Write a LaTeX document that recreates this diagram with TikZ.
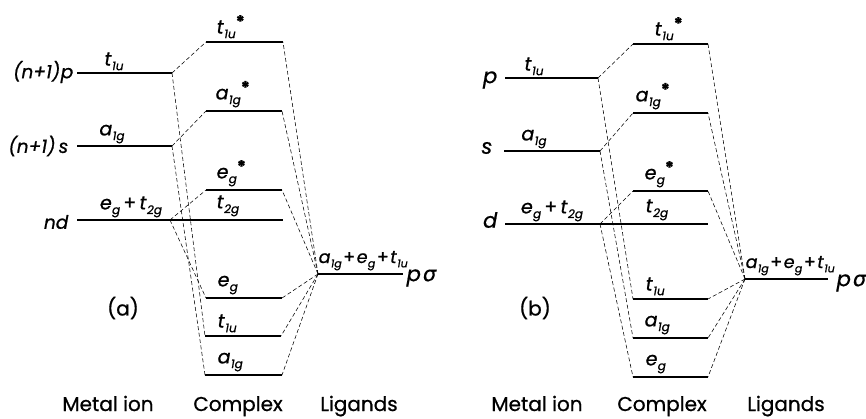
\documentclass[tikz,border=0pt]{standalone}
\usepackage{fontspec}
\setmainfont{Poppins}[FakeBold=0.8]
\newfontfamily\grk{DejaVu Sans}[FakeBold=0.5]
\newcommand{\sy}[2]{\textit{#1}\kern0.3pt\raisebox{-0.45ex}{\fontsize{12}{12}\selectfont\itshape #2}}
\newcommand{\syl}[2]{\textit{#1}\kern0.3pt\raisebox{-0.45ex}{\fontsize{11}{11}\selectfont\itshape #2}}
\newcommand{\st}{\raisebox{0.55ex}{\fontsize{17}{17}\selectfont\bfseries *}}
\begin{document}
\begin{tikzpicture}[x=1pt,y=-1pt,
  level/.style={line width=1.2pt},
  conn/.style={line width=0.55pt, dash pattern=on 4pt off 2.5pt},
  lab/.style={font=\fontsize{19}{19}\selectfont, inner sep=0.5pt},
  ligl/.style={font=\fontsize{17.5}{17.5}\selectfont, inner sep=0.5pt},
  big/.style={font=\fontsize{18.5}{18.5}\selectfont\itshape, inner sep=0.5pt},
  bigr/.style={font=\fontsize{21}{21}\selectfont\itshape, inner sep=0.5pt},
  captxt/.style={font=\fontsize{20}{20}\selectfont, inner sep=0.5pt}]
\useasboundingbox (0,0) rectangle (866,419);

% ---------------- (a) ----------------
\coordinate (ApL) at (77,73);  \coordinate (ApR) at (172,73);
\coordinate (AsL) at (77,146); \coordinate (AsR) at (172,146);
\coordinate (AdL) at (77,220); \coordinate (AdR) at (170,220);
\coordinate (AtsL) at (206,42);  \coordinate (AtsR) at (283,42);
\coordinate (AasL) at (206,111); \coordinate (AasR) at (282,111);
\coordinate (AesL) at (206,190); \coordinate (AesR) at (282,190);
\coordinate (AttL) at (206,220); \coordinate (AttR) at (283,220);
\coordinate (AeL) at (206,298);  \coordinate (AeR) at (282,298);
\coordinate (AtL) at (205,336);  \coordinate (AtR) at (281,336);
\coordinate (AaL) at (205,375);  \coordinate (AaR) at (282,375);
\coordinate (AlL) at (318,274);  \coordinate (AlR) at (403,274);

\foreach \a/\b in {ApL/ApR,AsL/AsR,AdL/AdR,AtsL/AtsR,AasL/AasR,AesL/AesR,AttL/AttR,AeL/AeR,AtL/AtR,AaL/AaR,AlL/AlR}
  \draw[level] (\a) -- (\b);
\draw[level] (AdR) -- (AttL);
\foreach \a/\b in {ApR/AtsL,ApR/AtL,AsR/AasL,AsR/AaL,AdR/AesL,AdR/AeL,
                   AlL/AtsR,AlL/AasR,AlL/AesR,AlL/AeR,AlL/AtR,AlL/AaR}
  \draw[conn] (\a) -- (\b);

\node[big,anchor=east] (Anp) at (74,72) {(\textit{n}+1)\kern0.5pt\textit{p}};
\node[big,anchor=east] (Ans) at (69,146) {(\textit{n}+1)\,\textit{s}};
\node[big,anchor=east] (And) at (69,222) {\textit{nd}};
\node[lab,anchor=south] (Am1) at (114,71) {\sy{t}{1u}};
\node[lab,anchor=south] (Am2) at (112,144) {\sy{a}{1g}};
\node[lab,anchor=south] (Am3) at (131,218) {\sy{e}{g}\,+\,\sy{t}{2g}};
\node[lab,anchor=south west] (Ac1) at (216,39) {\sy{t}{1u}\st};
\node[lab,anchor=south west] (Ac2) at (215,108) {\sy{a}{1g}\st};
\node[lab,anchor=south west] (Ac3) at (216,187) {\sy{e}{g}\st};
\node[lab,anchor=south west] (Ac4) at (216,217) {\sy{t}{2g}};
\node[lab,anchor=south west] (Ac5) at (217,295) {\sy{e}{g}};
\node[lab,anchor=south west] (Ac6) at (217,333) {\sy{t}{1u}};
\node[lab,anchor=south west] (Ac7) at (217,372) {\sy{a}{1g}};
\node[ligl,anchor=south west] (Al1) at (318,271) {\syl{a}{1g}\kern1.5pt+\kern1.5pt\syl{e}{g}\kern1.5pt+\kern1.5pt\syl{t}{1u}};
\node[bigr,anchor=west] (Al2) at (406,278) {\textit{p}\kern2pt{\grk\itshape σ}};
\node[captxt] (Aid) at (123,308) {(a)};
\node[captxt,anchor=base] (Ab1) at (108,411) {Metal ion};
\node[captxt,anchor=base] (Ab2) at (238,411) {Complex};
\node[captxt,anchor=base] (Ab3) at (359,411) {Ligands};

% ---------------- (b) ----------------
\coordinate (BpL) at (505,78);  \coordinate (BpR) at (598,78);
\coordinate (BsL) at (504,151); \coordinate (BsR) at (600,151);
\coordinate (BdL) at (505,224); \coordinate (BdR) at (600,224);
\coordinate (BtsL) at (633,44);  \coordinate (BtsR) at (708,44);
\coordinate (BasL) at (633,113); \coordinate (BasR) at (708,113);
\coordinate (BesL) at (633,191); \coordinate (BesR) at (708,191);
\coordinate (BttL) at (633,224); \coordinate (BttR) at (708,224);
\coordinate (BtL) at (633,299);  \coordinate (BtR) at (708,299);
\coordinate (BaL) at (633,338);  \coordinate (BaR) at (708,338);
\coordinate (BeL) at (633,377);  \coordinate (BeR) at (708,377);
\coordinate (BlL) at (745,279);  \coordinate (BlR) at (828,279);

\foreach \a/\b in {BpL/BpR,BsL/BsR,BdL/BdR,BtsL/BtsR,BasL/BasR,BesL/BesR,BttL/BttR,BtL/BtR,BaL/BaR,BeL/BeR,BlL/BlR}
  \draw[level] (\a) -- (\b);
\draw[level] (BdR) -- (BttL);
\foreach \a/\b in {BpR/BtsL,BpR/BtL,BsR/BasL,BsR/BaL,BdR/BesL,BdR/BeL,
                   BlL/BtsR,BlL/BasR,BlL/BesR,BlL/BtR,BlL/BaR,BlL/BeR}
  \draw[conn] (\a) -- (\b);

\node[bigr,anchor=east] (Bnp) at (498,80) {\textit{p}};
\node[bigr,anchor=east] (Bns) at (493,148) {\textit{s}};
\node[bigr,anchor=east] (Bnd) at (498,220) {\textit{d}};
\node[lab,anchor=south] (Bm1) at (534,76) {\sy{t}{1u}};
\node[lab,anchor=south] (Bm2) at (534,149) {\sy{a}{1g}};
\node[lab,anchor=south] (Bm3) at (552,222) {\sy{e}{g}\,+\,\sy{t}{2g}};
\node[lab,anchor=south west] (Bc1) at (654,41) {\sy{t}{1u}\st};
\node[lab,anchor=south west] (Bc2) at (635,110) {\sy{a}{1g}\st};
\node[lab,anchor=south west] (Bc3) at (644,188) {\sy{e}{g}\st};
\node[lab,anchor=south west] (Bc4) at (645,221) {\sy{t}{2g}};
\node[lab,anchor=south west] (Bc5) at (645,296) {\sy{t}{1u}};
\node[lab,anchor=south west] (Bc6) at (644,335) {\sy{a}{1g}};
\node[lab,anchor=south west] (Bc7) at (645,374) {\sy{e}{g}};
\node[ligl,anchor=south west] (Bl1) at (745,276) {\syl{a}{1g}\kern1.5pt+\kern1.5pt\syl{e}{g}\kern1.5pt+\kern1.5pt\syl{t}{1u}};
\node[bigr,anchor=west] (Bl2) at (836,283) {\textit{p}\kern2pt{\grk\itshape σ}};
\node[captxt] (Bid) at (535,308) {(b)};
\node[captxt,anchor=base] (Bb1) at (537,411) {Metal ion};
\node[captxt,anchor=base] (Bb2) at (662,411) {Complex};
\node[captxt,anchor=base] (Bb3) at (786,411) {Ligands};
\end{tikzpicture}
\end{document}
